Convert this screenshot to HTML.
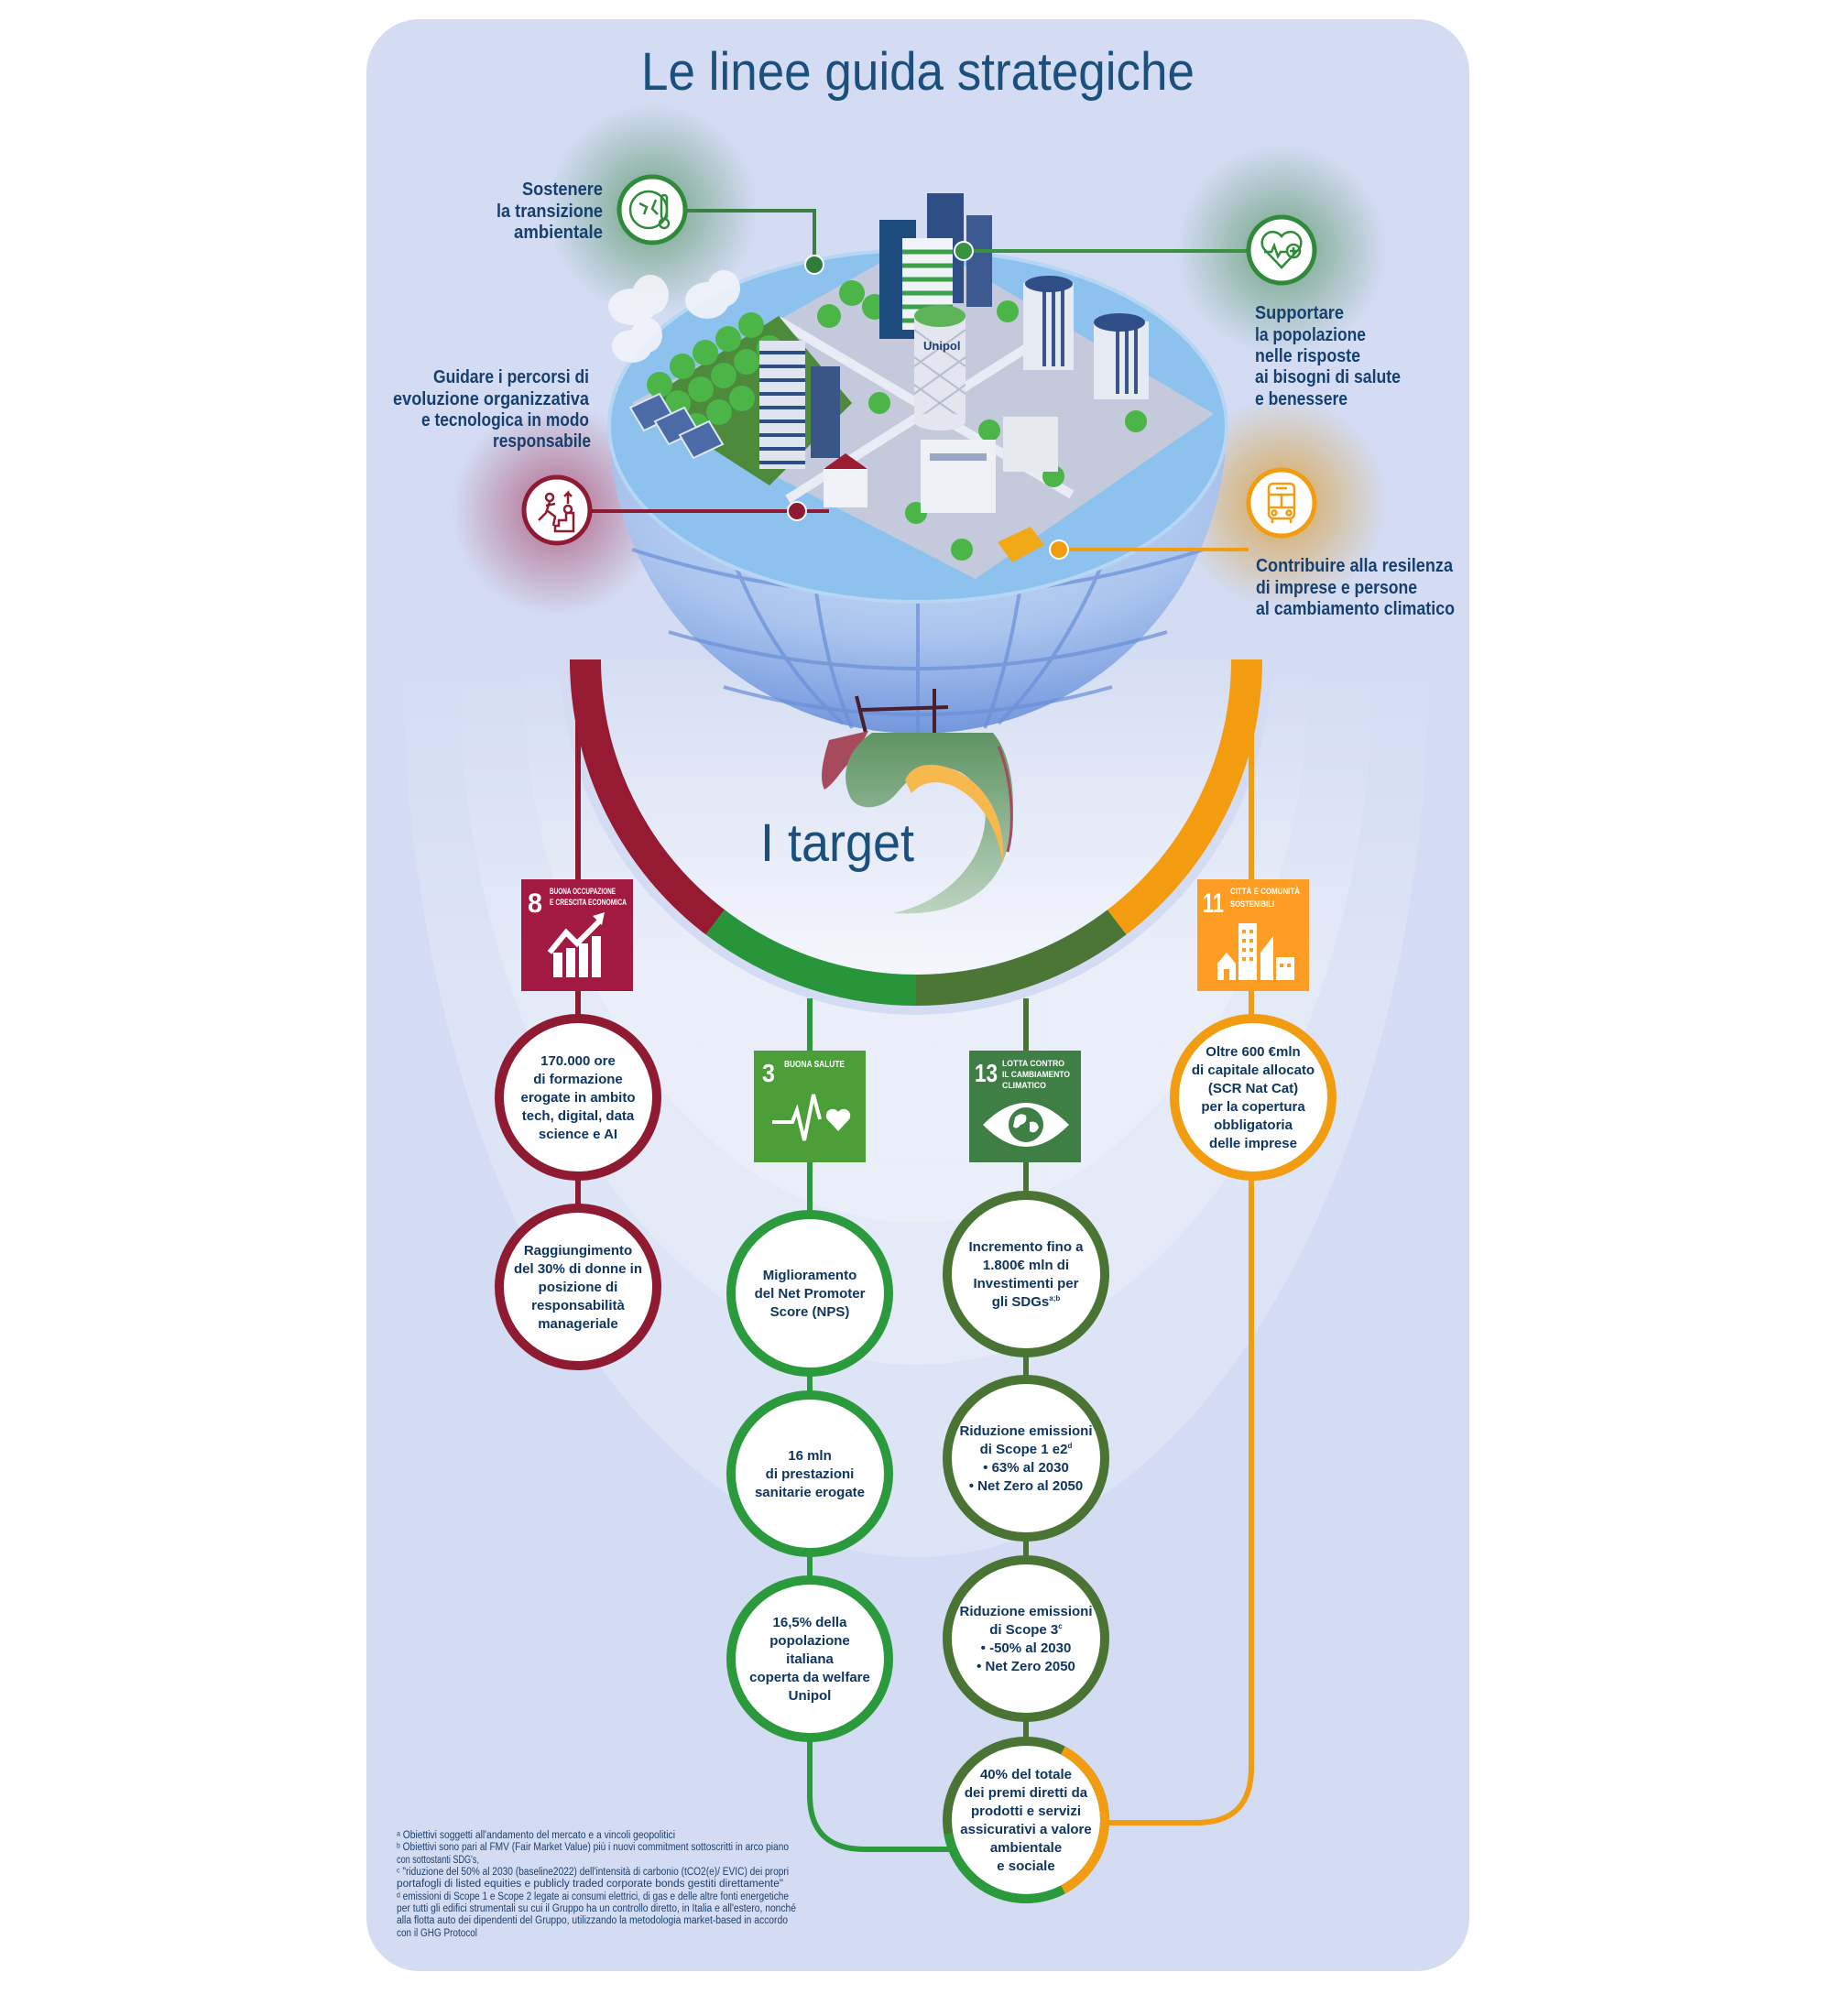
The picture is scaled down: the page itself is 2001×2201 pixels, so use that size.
<!DOCTYPE html>
<html><head><meta charset="utf-8"><style>
html,body{margin:0;padding:0;background:#fff;}
svg{display:block;}
text{font-family:"Liberation Sans",sans-serif;}
</style></head><body>
<svg width="2001" height="2201" viewBox="0 0 2001 2201" xmlns="http://www.w3.org/2000/svg">
<defs>
<radialGradient id="gG"><stop offset="0" stop-color="#4f8f5c" stop-opacity=".75"/><stop offset="1" stop-color="#4f8f5c" stop-opacity="0"/></radialGradient>
<radialGradient id="gR"><stop offset="0" stop-color="#a3385e" stop-opacity=".7"/><stop offset="1" stop-color="#a3385e" stop-opacity="0"/></radialGradient>
<radialGradient id="gO"><stop offset="0" stop-color="#d99a2b" stop-opacity=".8"/><stop offset="1" stop-color="#d99a2b" stop-opacity="0"/></radialGradient>
<linearGradient id="bowl" x1="0" y1="0" x2="0" y2="1"><stop offset="0" stop-color="#d6def3"/><stop offset="1" stop-color="#f4f6fc"/></linearGradient>
<linearGradient id="fadeW" gradientUnits="userSpaceOnUse" x1="0" y1="720" x2="0" y2="1050"><stop offset="0" stop-color="#ffffff" stop-opacity="0"/><stop offset="1" stop-color="#ffffff" stop-opacity=".22"/></linearGradient>
<radialGradient id="globe" cx=".5" cy=".2" r=".8"><stop offset="0" stop-color="#d4e3f8"/><stop offset=".6" stop-color="#a9c4ee"/><stop offset="1" stop-color="#6d93dc"/></radialGradient>
<linearGradient id="swirl" x1="0" y1="0" x2="0" y2="1"><stop offset="0" stop-color="#5f9464"/><stop offset="1" stop-color="#bcd4c0"/></linearGradient>
<clipPath id="pc"><rect x="400" y="21" width="1204" height="2131" rx="58"/></clipPath>
</defs>

<!-- panel -->
<rect x="400" y="21" width="1204" height="2131" rx="58" fill="#d3dcf3"/>
<!-- bowls -->
<g clip-path="url(#pc)">
<path d="M440,720 A560,980 0 0 0 1560,720 Z" fill="url(#fadeW)"/>
<path d="M500,720 A500,770 0 0 0 1500,720 Z" fill="url(#fadeW)"/>
<path d="M570,720 A430,615 0 0 0 1430,720 Z" fill="url(#fadeW)"/>
<path d="M612,720 A388,388 0 0 0 1388,720 Z" fill="#d4dcf3"/>
<path d="M656,720 A344,344 0 0 0 1344,720 Z" fill="url(#bowl)"/>
</g>

<!-- Title -->
<text x="700" y="98" font-size="58" fill="#1b4f7c" textLength="604" lengthAdjust="spacingAndGlyphs">Le  linee guida strategiche</text>

<!-- glows -->
<circle cx="712" cy="229" r="115" fill="url(#gG)"/>
<circle cx="1399" cy="273" r="115" fill="url(#gG)"/>
<circle cx="608" cy="557" r="115" fill="url(#gR)"/>
<circle cx="1399" cy="549" r="115" fill="url(#gO)"/>

<!-- globe lower half -->
<path d="M665,464 A337,337 0 0 0 1339,464 Z" fill="url(#globe)" opacity=".95"/>
<g fill="none" stroke="#6a8fd8" stroke-width="4" opacity=".7">
<path d="M690,600 Q1002,700 1314,600"/>
<path d="M730,690 Q1002,770 1274,690"/>
<path d="M790,750 Q1002,810 1214,750"/>
<path d="M760,470 Q800,680 920,790"/>
<path d="M880,470 Q880,680 930,795"/>
<path d="M1002,470 L1002,800"/>
<path d="M1130,470 Q1120,680 1075,795"/>
<path d="M1250,470 Q1200,680 1090,790"/>
</g>
<path d="M940,775 L1035,772 M1020,752 L1020,800 M935,760 L945,800" stroke="#4a1e2a" stroke-width="4" fill="none"/>
<!-- swirl -->
<path d="M905,808 C898,830 894,850 900,862 C912,855 918,840 932,828 L948,798 Z" fill="#a84a5e"/>
<path d="M952,800 L1084,800 C1110,830 1112,900 1095,940 C1075,985 1030,1000 975,997 C1030,985 1070,945 1075,900 C1080,870 1060,840 1030,838 C1000,836 985,860 975,870 C960,885 935,885 928,870 C915,840 930,815 952,800 Z" fill="url(#swirl)"/>
<path d="M988,852 C995,835 1015,830 1040,840 C1078,856 1098,895 1095,942 C1088,902 1070,872 1040,858 C1020,850 1005,855 995,866 Z" fill="#f7b94e"/>
<path d="M1090,815 C1105,850 1108,900 1100,930" stroke="#a84a5e" stroke-width="3" fill="none"/>

<!-- top disk -->
<ellipse cx="1002" cy="465" rx="337" ry="192" fill="#8cc2ed"/>
<ellipse cx="1002" cy="465" rx="337" ry="192" fill="none" stroke="#b7d6f4" stroke-width="4"/>
<!-- city base -->
<polygon points="1005,262 1325,452 1065,632 690,440" fill="#c4c9db"/>
<g stroke="#e9ecf5" stroke-width="10" fill="none">
<path d="M850,350 L1170,540"/><path d="M1160,355 L860,545"/>
</g>
<!-- forest -->
<polygon points="700,440 850,345 930,440 840,530" fill="#4d8a3c"/>
<g fill="#4cb548">
<circle cx="720" cy="420" r="14"/><circle cx="745" cy="400" r="14"/><circle cx="770" cy="385" r="14"/><circle cx="795" cy="370" r="14"/><circle cx="820" cy="355" r="14"/>
<circle cx="740" cy="440" r="14"/><circle cx="765" cy="425" r="14"/><circle cx="790" cy="410" r="14"/><circle cx="815" cy="395" r="14"/><circle cx="840" cy="380" r="14"/>
<circle cx="760" cy="465" r="14"/><circle cx="785" cy="450" r="14"/><circle cx="810" cy="435" r="14"/><circle cx="860" cy="405" r="14"/>
<circle cx="930" cy="320" r="14"/><circle cx="955" cy="335" r="14"/><circle cx="905" cy="345" r="13"/>
<circle cx="1100" cy="340" r="12"/><circle cx="1240" cy="460" r="12"/><circle cx="1050" cy="600" r="12"/><circle cx="1000" cy="560" r="12"/>
<circle cx="1150" cy="520" r="12"/><circle cx="960" cy="440" r="12"/><circle cx="1080" cy="470" r="12"/>
</g>
<!-- solar panels -->
<g fill="#4c6aa6" stroke="#dfe6f5" stroke-width="2">
<polygon points="688,445 720,430 735,455 703,470"/><polygon points="715,460 747,445 762,470 730,485"/><polygon points="742,475 774,460 789,485 757,500"/>
</g>
<!-- buildings -->
<rect x="829" y="372" width="50" height="140" fill="#dfe4f0"/>
<g stroke="#2e4f85" stroke-width="4"><path d="M829,385H879M829,400H879M829,415H879M829,430H879M829,445H879M829,460H879M829,475H879M829,490H879M829,505H879"/></g>
<rect x="885" y="400" width="32" height="100" fill="#3a5587"/>
<rect x="1012" y="211" width="40" height="120" fill="#2f4e86"/>
<rect x="1055" y="235" width="28" height="100" fill="#3c5a90"/>
<rect x="960" y="240" width="40" height="130" fill="#1f4c7e"/>
<rect x="985" y="260" width="55" height="100" fill="#f0f3f8"/>
<g stroke="#3aa04a" stroke-width="5"><path d="M985,275H1040M985,290H1040M985,305H1040M985,320H1040M985,335H1040M985,350H1040"/></g>
<rect x="1117" y="309" width="55" height="95" fill="#e6eaf3"/>
<g stroke="#3a5587" stroke-width="4"><path d="M1140,315V400M1150,315V400M1160,315V400"/></g>
<rect x="1194" y="351" width="60" height="85" fill="#e6eaf3"/>
<g stroke="#3a5587" stroke-width="4"><path d="M1220,355V430M1230,355V430M1240,355V430"/></g>
<ellipse cx="1222" cy="352" rx="28" ry="10" fill="#2f4e86"/>
<ellipse cx="1145" cy="310" rx="26" ry="9" fill="#2f4e86"/>
<rect x="998" y="345" width="56" height="115" fill="#e3e6ef"/>
<g stroke="#b8bdd0" stroke-width="2" fill="none"><path d="M998,360L1054,400M998,390L1054,430M998,420L1054,460M1054,360L998,400M1054,390L998,430M1054,420L998,460"/></g>
<ellipse cx="1026" cy="345" rx="28" ry="12" fill="#5fb45a"/>
<ellipse cx="1026" cy="460" rx="28" ry="10" fill="#e3e6ef"/>
<text x="1008" y="382" font-size="13" fill="#1b3d6e" font-weight="bold">Unipol</text>
<rect x="1005" y="480" width="82" height="80" fill="#eef0f6"/>
<rect x="1015" y="495" width="62" height="8" fill="#9aa6c4"/>
<rect x="1095" y="455" width="60" height="60" fill="#e7e9f1"/>
<rect x="899" y="510" width="48" height="44" fill="#f0f2f7"/>
<polygon points="899,512 923,495 947,512" fill="#9c1c32"/>
<polygon points="1089,592 1125,575 1140,595 1105,614" fill="#f2a918"/>
<!-- clouds -->
<g fill="#f2f4fa" opacity=".9">
<ellipse cx="690" cy="335" rx="26" ry="20"/><ellipse cx="710" cy="322" rx="20" ry="22"/>
<ellipse cx="772" cy="328" rx="24" ry="20"/><ellipse cx="790" cy="315" rx="18" ry="20"/>
<ellipse cx="690" cy="378" rx="22" ry="18"/><ellipse cx="706" cy="366" rx="17" ry="19"/>
</g>

<!-- connectors to icons -->
<path d="M750,230 H889 V289" stroke="#3a7f43" stroke-width="4" fill="none"/>
<circle cx="889" cy="289" r="10" fill="#2f7d3a" stroke="#fff" stroke-width="2"/>
<path d="M1052,274 H1361" stroke="#3a9140" stroke-width="4"/>
<circle cx="1052" cy="274" r="10" fill="#3a9140" stroke="#fff" stroke-width="2"/>
<path d="M646,558 H905" stroke="#8f1b33" stroke-width="4"/>
<circle cx="870" cy="558" r="10" fill="#8f1b33" stroke="#fff" stroke-width="2"/>
<path d="M1156,600 H1363" stroke="#f29c11" stroke-width="4"/>
<circle cx="1156" cy="600" r="10" fill="#f29c11" stroke="#fff" stroke-width="2"/>

<!-- icon circles -->
<circle cx="712" cy="229" r="36" fill="#fff" stroke="#2f8a3a" stroke-width="5"/>
<g stroke="#2f8a3a" stroke-width="2.5" fill="none"><circle cx="708" cy="229" r="20"/><path d="M698,222 l8,4 -3,8 M716,218 l-4,10 6,6"/><rect x="722" y="213" width="6" height="26" rx="3"/><circle cx="725" cy="244" r="5"/></g>
<circle cx="1399" cy="273" r="36" fill="#fff" stroke="#2f8a3a" stroke-width="5"/>
<g stroke="#2f8a3a" stroke-width="2.5" fill="none"><path d="M1399,292 L1380,272 A10,10 0 0 1 1399,258 A10,10 0 0 1 1418,272 Z"/><path d="M1380,275 h8 l3,-7 4,12 3,-5 h6"/><circle cx="1412" cy="274" r="7"/><path d="M1412,270v8M1408,274h8"/></g>
<circle cx="608" cy="557" r="36" fill="#fff" stroke="#8f1b33" stroke-width="5"/>
<g stroke="#8f1b33" stroke-width="2.5" fill="none"><circle cx="600" cy="543" r="4"/><path d="M600,548 l-4,12 -8,8 M598,558 l8,6 -2,10 M596,552 l10,-2"/><path d="M606,580 h20 v-20 h-8 v8 h-8 v6 h-4 z"/><path d="M620,550 v-12 l-4,4 M620,538 l4,4"/><circle cx="620" cy="556" r="4"/></g>
<circle cx="1399" cy="549" r="36" fill="#fff" stroke="#f29c11" stroke-width="5"/>
<g stroke="#f29c11" stroke-width="2.5" fill="none"><rect x="1385" y="528" width="28" height="38" rx="5"/><path d="M1385,540 h28 M1399,540 v14 M1385,554 h28 M1393,533 h12"/><circle cx="1391" cy="560" r="2.5"/><circle cx="1407" cy="560" r="2.5"/><path d="M1389,566 v5 M1409,566 v5"/></g>

<!-- icon labels -->
<g font-weight="bold" font-size="20" fill="#17406e" text-anchor="end">
<text x="658" y="213" textLength="88" lengthAdjust="spacingAndGlyphs">Sostenere</text>
<text x="658" y="237" textLength="116" lengthAdjust="spacingAndGlyphs">la transizione</text>
<text x="658" y="260" textLength="97" lengthAdjust="spacingAndGlyphs">ambientale</text>
<text x="643" y="418" textLength="170" lengthAdjust="spacingAndGlyphs">Guidare i percorsi di</text>
<text x="643" y="442" textLength="214" lengthAdjust="spacingAndGlyphs">evoluzione organizzativa</text>
<text x="643" y="465" textLength="183" lengthAdjust="spacingAndGlyphs">e tecnologica in modo</text>
<text x="645" y="488" textLength="107" lengthAdjust="spacingAndGlyphs">responsabile</text>
</g>
<g font-weight="bold" font-size="20" fill="#17406e">
<text x="1370" y="348" textLength="97" lengthAdjust="spacingAndGlyphs">Supportare</text>
<text x="1370" y="372" textLength="121" lengthAdjust="spacingAndGlyphs">la popolazione</text>
<text x="1370" y="395" textLength="115" lengthAdjust="spacingAndGlyphs">nelle risposte</text>
<text x="1370" y="418" textLength="159" lengthAdjust="spacingAndGlyphs">ai bisogni di salute</text>
<text x="1370" y="442" textLength="101" lengthAdjust="spacingAndGlyphs">e benessere</text>
<text x="1371" y="624" textLength="215" lengthAdjust="spacingAndGlyphs">Contribuire alla resilenza</text>
<text x="1371" y="648" textLength="176" lengthAdjust="spacingAndGlyphs">di imprese e persone</text>
<text x="1371" y="671" textLength="217" lengthAdjust="spacingAndGlyphs">al cambiamento climatico</text>
</g>

<!-- I target -->
<text x="830" y="940" font-size="58" fill="#1b4f7c" textLength="168" lengthAdjust="spacingAndGlyphs">I target</text>

<!-- vertical connectors -->
<path d="M631,725 V1405" stroke="#8f1b33" stroke-width="6"/>
<path d="M884,1090 V1960 Q884,2019 944,2019 H1040" stroke="#2a9a3c" stroke-width="6" fill="none"/>
<path d="M1120,1090 V1987" stroke="#4a7433" stroke-width="6"/>
<path d="M1366,722 V1930 Q1366,1990 1306,1990 H1200" stroke="#f29c11" stroke-width="6" fill="none"/>

<!-- ring -->
<g fill="none" stroke-width="34">
<path d="M639,720 A361,361 0 0 0 780.7,1006.8" stroke="#971a33"/>
<path d="M780.7,1006.8 A361,361 0 0 0 1000,1081" stroke="#28953a"/>
<path d="M1000,1081 A361,361 0 0 0 1219.3,1006.8" stroke="#4b7636"/>
<path d="M1219.3,1006.8 A361,361 0 0 0 1361,720" stroke="#f39c0f"/>
</g>

<!-- SDG boxes -->
<rect x="569" y="960" width="122" height="122" fill="#a21942"/>
<g fill="#fff" font-weight="bold">
<text x="576" y="996" font-size="30" textLength="16" lengthAdjust="spacingAndGlyphs">8</text>
<text x="600" y="976" font-size="9" textLength="72" lengthAdjust="spacingAndGlyphs">BUONA OCCUPAZIONE</text>
<text x="600" y="988" font-size="9" textLength="84" lengthAdjust="spacingAndGlyphs">E CRESCITA ECONOMICA</text>
</g>
<g fill="#fff"><rect x="604" y="1040" width="10" height="27"/><rect x="618" y="1035" width="10" height="32"/><rect x="632" y="1030" width="10" height="37"/><rect x="646" y="1022" width="10" height="45"/></g>
<path d="M600,1040 L618,1018 L630,1030 L655,1005" stroke="#fff" stroke-width="6" fill="none"/>
<polygon points="647,1000 660,996 657,1010" fill="#fff"/>

<rect x="823" y="1147" width="122" height="122" fill="#4c9f38"/>
<g fill="#fff" font-weight="bold">
<text x="832" y="1181" font-size="28" textLength="14" lengthAdjust="spacingAndGlyphs">3</text>
<text x="856" y="1165" font-size="10" textLength="66" lengthAdjust="spacingAndGlyphs">BUONA SALUTE</text>
</g>
<path d="M843,1225 H865 L870,1212 L878,1245 L888,1195 L895,1222" stroke="#fff" stroke-width="4" fill="none"/>
<path d="M915,1235 L903,1222 A6,6 0 0 1 915,1214 A6,6 0 0 1 927,1222 Z" fill="#fff"/>

<rect x="1058" y="1147" width="122" height="122" fill="#3f7e44"/>
<g fill="#fff" font-weight="bold">
<text x="1064" y="1181" font-size="28" textLength="25" lengthAdjust="spacingAndGlyphs">13</text>
<text x="1094" y="1164" font-size="9.5" textLength="68" lengthAdjust="spacingAndGlyphs">LOTTA CONTRO</text>
<text x="1094" y="1176" font-size="9.5" textLength="74" lengthAdjust="spacingAndGlyphs">IL CAMBIAMENTO</text>
<text x="1094" y="1188" font-size="9.5" textLength="48" lengthAdjust="spacingAndGlyphs">CLIMATICO</text>
</g>
<path d="M1073,1228 Q1120,1180 1167,1228 Q1120,1276 1073,1228 Z" fill="#fff"/>
<circle cx="1120" cy="1228" r="19" fill="#3f7e44"/>
<path d="M1108,1220 q6,-6 12,-2 q2,8 -6,10 q-4,6 -8,2 z M1124,1225 q8,-2 10,6 q-4,8 -10,4 z" fill="#fff"/>

<rect x="1307" y="960" width="122" height="122" fill="#fd9d24"/>
<g fill="#fff" font-weight="bold">
<text x="1313" y="996" font-size="30" textLength="23" lengthAdjust="spacingAndGlyphs">11</text>
<text x="1343" y="976" font-size="9" textLength="76" lengthAdjust="spacingAndGlyphs">CITTÀ E COMUNITÀ</text>
<text x="1343" y="990" font-size="9" textLength="48" lengthAdjust="spacingAndGlyphs">SOSTENIBILI</text>
</g>
<g fill="#fff"><polygon points="1329,1070 1329,1052 1339,1040 1349,1052 1349,1070"/><rect x="1352" y="1008" width="20" height="62"/><polygon points="1376,1070 1376,1040 1390,1022 1390,1070"/><rect x="1393" y="1045" width="20" height="25"/></g>
<g fill="#fd9d24"><rect x="1356" y="1015" width="4" height="4"/><rect x="1364" y="1015" width="4" height="4"/><rect x="1356" y="1025" width="4" height="4"/><rect x="1364" y="1025" width="4" height="4"/><rect x="1356" y="1035" width="4" height="4"/><rect x="1364" y="1035" width="4" height="4"/><rect x="1356" y="1045" width="4" height="4"/><rect x="1364" y="1045" width="4" height="4"/><rect x="1397" y="1052" width="4" height="4"/><rect x="1405" y="1052" width="4" height="4"/><rect x="1336" y="1058" width="6" height="12"/></g>

<!-- circles -->
<g fill="#fff" stroke-width="10">
<circle cx="631" cy="1198" r="86" stroke="#8f1b33"/>
<circle cx="631" cy="1405" r="86" stroke="#8f1b33"/>
<circle cx="884" cy="1412" r="86" stroke="#2a9a3c"/>
<circle cx="884" cy="1609" r="86" stroke="#2a9a3c"/>
<circle cx="884" cy="1811" r="86" stroke="#2a9a3c"/>
<circle cx="1120" cy="1391" r="86" stroke="#4a7433"/>
<circle cx="1120" cy="1592" r="86" stroke="#4a7433"/>
<circle cx="1120" cy="1789" r="86" stroke="#4a7433"/>
<circle cx="1368" cy="1198" r="86" stroke="#f29c11"/>
<circle cx="1120" cy="1987" r="86" stroke="#4a7433"/>
</g>
<g fill="none" stroke-width="10">
<path d="M1160.4,1911.1 A86,86 0 0 1 1160.4,2062.9" stroke="#f29c11"/>
<path d="M1160.4,2062.9 A86,86 0 0 1 1035.3,2001.9" stroke="#2a9a3c"/>
</g>

<!-- circle texts -->
<g font-size="15" font-weight="bold" fill="#0f3562" text-anchor="middle">
<text x="631" y="1163">170.000 ore</text><text x="631" y="1183">di formazione</text><text x="631" y="1203">erogate in ambito</text><text x="631" y="1223">tech, digital, data</text><text x="631" y="1243">science e AI</text>
<text x="631" y="1370">Raggiungimento</text><text x="631" y="1390">del 30% di donne in</text><text x="631" y="1410">posizione di</text><text x="631" y="1430">responsabilità</text><text x="631" y="1450">manageriale</text>
<text x="884" y="1397">Miglioramento</text><text x="884" y="1417">del Net Promoter</text><text x="884" y="1437">Score (NPS)</text>
<text x="884" y="1594">16 mln</text><text x="884" y="1614">di prestazioni</text><text x="884" y="1634">sanitarie erogate</text>
<text x="884" y="1776">16,5% della</text><text x="884" y="1796">popolazione</text><text x="884" y="1816">italiana</text><text x="884" y="1836">coperta da welfare</text><text x="884" y="1856">Unipol</text>
<text x="1120" y="1366">Incremento fino a</text><text x="1120" y="1386">1.800€ mln di</text><text x="1120" y="1406">Investimenti per</text><text x="1120" y="1426">gli SDGs<tspan font-size="8" dy="-6">a;b</tspan></text>
<text x="1120" y="1567">Riduzione emissioni</text><text x="1120" y="1587">di Scope 1  e2<tspan font-size="8" dy="-6">d</tspan></text><text x="1120" y="1607">• 63% al 2030</text><text x="1120" y="1627">• Net Zero al 2050</text>
<text x="1120" y="1764">Riduzione emissioni</text><text x="1120" y="1784">di Scope 3<tspan font-size="8" dy="-6">c</tspan></text><text x="1120" y="1804">• -50% al 2030</text><text x="1120" y="1824">• Net Zero 2050</text>
<text x="1120" y="1942">40% del totale</text><text x="1120" y="1962">dei premi diretti da</text><text x="1120" y="1982">prodotti e servizi</text><text x="1120" y="2002">assicurativi a valore</text><text x="1120" y="2022">ambientale</text><text x="1120" y="2042">e sociale</text>
<text x="1368" y="1153">Oltre 600 €mln</text><text x="1368" y="1173">di capitale allocato</text><text x="1368" y="1193">(SCR Nat Cat)</text><text x="1368" y="1213">per la copertura</text><text x="1368" y="1233">obbligatoria</text><text x="1368" y="1253">delle imprese</text>
</g>

<!-- footnotes -->
<g font-size="11.5" fill="#1c3f6e">
<text x="433" y="2007" textLength="304" lengthAdjust="spacingAndGlyphs">ᵃ Obiettivi soggetti all'andamento del mercato e a vincoli geopolitici</text>
<text x="433" y="2020" textLength="428" lengthAdjust="spacingAndGlyphs">ᵇ Obiettivi sono pari al FMV (Fair Market Value) più i nuovi commitment sottoscritti in arco piano</text>
<text x="433" y="2034" textLength="90" lengthAdjust="spacingAndGlyphs">con sottostanti SDG's,</text>
<text x="433" y="2047" textLength="428" lengthAdjust="spacingAndGlyphs">ᶜ "riduzione del 50% al 2030 (baseline2022) dell'intensità di carbonio (tCO2(e)/ EVIC) dei propri</text>
<text x="433" y="2060" textLength="422" lengthAdjust="spacingAndGlyphs">portafogli di listed equities e publicly traded corporate bonds gestiti direttamente"</text>
<text x="433" y="2074" textLength="428" lengthAdjust="spacingAndGlyphs">ᵈ emissioni di Scope 1 e Scope 2 legate ai consumi elettrici, di gas e delle altre fonti energetiche</text>
<text x="433" y="2087" textLength="436" lengthAdjust="spacingAndGlyphs">per tutti gli edifici strumentali su cui il Gruppo ha un controllo diretto, in Italia e all'estero, nonché</text>
<text x="433" y="2100" textLength="427" lengthAdjust="spacingAndGlyphs">alla flotta auto dei dipendenti del Gruppo, utilizzando la metodologia market-based in accordo</text>
<text x="433" y="2114" textLength="88" lengthAdjust="spacingAndGlyphs">con il GHG Protocol</text>
</g>
</svg>
</body></html>
